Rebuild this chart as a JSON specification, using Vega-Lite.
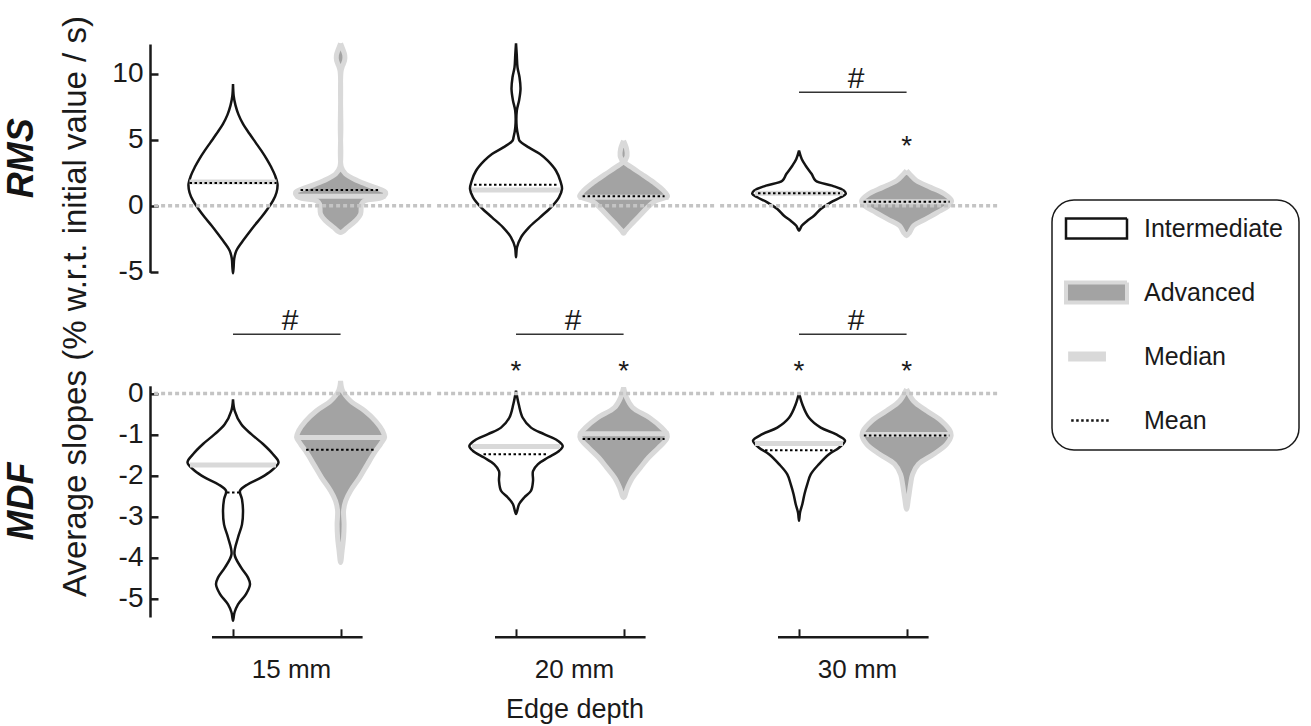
{
"$schema":"https://vega.github.io/schema/vega-lite/v6.json",
"background":"white",
"padding":{"left":3,"top":15,"right":0,"bottom":5},
"config":{"font":"Liberation Sans","view":{"stroke":null},"text":{"font":"Liberation Sans"},"axis":{"grid":false,"labelFont":"Liberation Sans","titleFont":"Liberation Sans"},"header":{"labelFont":"Liberation Sans","titleFont":"Liberation Sans"},"legend":{"labelFont":"Liberation Sans"}},
"datasets":{"all":[
{"p":"RMS","g":"15 mm","l":"Intermediate","k":"v","v":9.22,"d":0},
{"p":"RMS","g":"15 mm","l":"Intermediate","k":"v","v":8.3,"d":0.07},
{"p":"RMS","g":"15 mm","l":"Intermediate","k":"v","v":7.6,"d":0.25},
{"p":"RMS","g":"15 mm","l":"Intermediate","k":"v","v":6.9,"d":0.55},
{"p":"RMS","g":"15 mm","l":"Intermediate","k":"v","v":6.2,"d":1},
{"p":"RMS","g":"15 mm","l":"Intermediate","k":"v","v":5.43,"d":1.67},
{"p":"RMS","g":"15 mm","l":"Intermediate","k":"v","v":4.8,"d":2.25},
{"p":"RMS","g":"15 mm","l":"Intermediate","k":"v","v":4.17,"d":2.83},
{"p":"RMS","g":"15 mm","l":"Intermediate","k":"v","v":3.5,"d":3.4},
{"p":"RMS","g":"15 mm","l":"Intermediate","k":"v","v":2.91,"d":3.83},
{"p":"RMS","g":"15 mm","l":"Intermediate","k":"v","v":2.3,"d":4.2},
{"p":"RMS","g":"15 mm","l":"Intermediate","k":"v","v":1.64,"d":4.45},
{"p":"RMS","g":"15 mm","l":"Intermediate","k":"v","v":1,"d":4.35},
{"p":"RMS","g":"15 mm","l":"Intermediate","k":"v","v":0.38,"d":4},
{"p":"RMS","g":"15 mm","l":"Intermediate","k":"v","v":-0.25,"d":3.45},
{"p":"RMS","g":"15 mm","l":"Intermediate","k":"v","v":-0.88,"d":2.83},
{"p":"RMS","g":"15 mm","l":"Intermediate","k":"v","v":-1.5,"d":2.15},
{"p":"RMS","g":"15 mm","l":"Intermediate","k":"v","v":-2.14,"d":1.5},
{"p":"RMS","g":"15 mm","l":"Intermediate","k":"v","v":-2.8,"d":0.85},
{"p":"RMS","g":"15 mm","l":"Intermediate","k":"v","v":-3.41,"d":0.33},
{"p":"RMS","g":"15 mm","l":"Intermediate","k":"v","v":-4,"d":0.12},
{"p":"RMS","g":"15 mm","l":"Intermediate","k":"v","v":-4.67,"d":0.06},
{"p":"RMS","g":"15 mm","l":"Intermediate","k":"v","v":-5.12,"d":0},
{"p":"RMS","g":"15 mm","l":"Intermediate","k":"v","v":-4.67,"d":-0.06},
{"p":"RMS","g":"15 mm","l":"Intermediate","k":"v","v":-4,"d":-0.12},
{"p":"RMS","g":"15 mm","l":"Intermediate","k":"v","v":-3.41,"d":-0.33},
{"p":"RMS","g":"15 mm","l":"Intermediate","k":"v","v":-2.8,"d":-0.85},
{"p":"RMS","g":"15 mm","l":"Intermediate","k":"v","v":-2.14,"d":-1.5},
{"p":"RMS","g":"15 mm","l":"Intermediate","k":"v","v":-1.5,"d":-2.15},
{"p":"RMS","g":"15 mm","l":"Intermediate","k":"v","v":-0.88,"d":-2.83},
{"p":"RMS","g":"15 mm","l":"Intermediate","k":"v","v":-0.25,"d":-3.45},
{"p":"RMS","g":"15 mm","l":"Intermediate","k":"v","v":0.38,"d":-4},
{"p":"RMS","g":"15 mm","l":"Intermediate","k":"v","v":1,"d":-4.35},
{"p":"RMS","g":"15 mm","l":"Intermediate","k":"v","v":1.64,"d":-4.45},
{"p":"RMS","g":"15 mm","l":"Intermediate","k":"v","v":2.3,"d":-4.2},
{"p":"RMS","g":"15 mm","l":"Intermediate","k":"v","v":2.91,"d":-3.83},
{"p":"RMS","g":"15 mm","l":"Intermediate","k":"v","v":3.5,"d":-3.4},
{"p":"RMS","g":"15 mm","l":"Intermediate","k":"v","v":4.17,"d":-2.83},
{"p":"RMS","g":"15 mm","l":"Intermediate","k":"v","v":4.8,"d":-2.25},
{"p":"RMS","g":"15 mm","l":"Intermediate","k":"v","v":5.43,"d":-1.67},
{"p":"RMS","g":"15 mm","l":"Intermediate","k":"v","v":6.2,"d":-1},
{"p":"RMS","g":"15 mm","l":"Intermediate","k":"v","v":6.9,"d":-0.55},
{"p":"RMS","g":"15 mm","l":"Intermediate","k":"v","v":7.6,"d":-0.25},
{"p":"RMS","g":"15 mm","l":"Intermediate","k":"v","v":8.3,"d":-0.07},
{"p":"RMS","g":"15 mm","l":"Intermediate","k":"v","v":9.22,"d":0},
{"p":"RMS","g":"15 mm","l":"Advanced","k":"v","v":12.3,"d":0},
{"p":"RMS","g":"15 mm","l":"Advanced","k":"v","v":11.8,"d":0.25},
{"p":"RMS","g":"15 mm","l":"Advanced","k":"v","v":11.4,"d":0.42},
{"p":"RMS","g":"15 mm","l":"Advanced","k":"v","v":11,"d":0.4},
{"p":"RMS","g":"15 mm","l":"Advanced","k":"v","v":10.6,"d":0.2},
{"p":"RMS","g":"15 mm","l":"Advanced","k":"v","v":10.2,"d":0.05},
{"p":"RMS","g":"15 mm","l":"Advanced","k":"v","v":6,"d":0.03},
{"p":"RMS","g":"15 mm","l":"Advanced","k":"v","v":2.91,"d":0.08},
{"p":"RMS","g":"15 mm","l":"Advanced","k":"v","v":2.4,"d":0.5},
{"p":"RMS","g":"15 mm","l":"Advanced","k":"v","v":1.89,"d":1.7},
{"p":"RMS","g":"15 mm","l":"Advanced","k":"v","v":1.39,"d":3.4},
{"p":"RMS","g":"15 mm","l":"Advanced","k":"v","v":1.02,"d":4.5},
{"p":"RMS","g":"15 mm","l":"Advanced","k":"v","v":0.64,"d":4.2},
{"p":"RMS","g":"15 mm","l":"Advanced","k":"v","v":0.38,"d":2.4},
{"p":"RMS","g":"15 mm","l":"Advanced","k":"v","v":0.13,"d":2.1},
{"p":"RMS","g":"15 mm","l":"Advanced","k":"v","v":-0.63,"d":2},
{"p":"RMS","g":"15 mm","l":"Advanced","k":"v","v":-1.14,"d":1.5},
{"p":"RMS","g":"15 mm","l":"Advanced","k":"v","v":-1.64,"d":0.7},
{"p":"RMS","g":"15 mm","l":"Advanced","k":"v","v":-2.02,"d":0},
{"p":"RMS","g":"15 mm","l":"Advanced","k":"v","v":-1.64,"d":-0.7},
{"p":"RMS","g":"15 mm","l":"Advanced","k":"v","v":-1.14,"d":-1.5},
{"p":"RMS","g":"15 mm","l":"Advanced","k":"v","v":-0.63,"d":-2},
{"p":"RMS","g":"15 mm","l":"Advanced","k":"v","v":0.13,"d":-2.1},
{"p":"RMS","g":"15 mm","l":"Advanced","k":"v","v":0.38,"d":-2.4},
{"p":"RMS","g":"15 mm","l":"Advanced","k":"v","v":0.64,"d":-4.2},
{"p":"RMS","g":"15 mm","l":"Advanced","k":"v","v":1.02,"d":-4.5},
{"p":"RMS","g":"15 mm","l":"Advanced","k":"v","v":1.39,"d":-3.4},
{"p":"RMS","g":"15 mm","l":"Advanced","k":"v","v":1.89,"d":-1.7},
{"p":"RMS","g":"15 mm","l":"Advanced","k":"v","v":2.4,"d":-0.5},
{"p":"RMS","g":"15 mm","l":"Advanced","k":"v","v":2.91,"d":-0.08},
{"p":"RMS","g":"15 mm","l":"Advanced","k":"v","v":6,"d":-0.03},
{"p":"RMS","g":"15 mm","l":"Advanced","k":"v","v":10.2,"d":-0.05},
{"p":"RMS","g":"15 mm","l":"Advanced","k":"v","v":10.6,"d":-0.2},
{"p":"RMS","g":"15 mm","l":"Advanced","k":"v","v":11,"d":-0.4},
{"p":"RMS","g":"15 mm","l":"Advanced","k":"v","v":11.4,"d":-0.42},
{"p":"RMS","g":"15 mm","l":"Advanced","k":"v","v":11.8,"d":-0.25},
{"p":"RMS","g":"15 mm","l":"Advanced","k":"v","v":12.3,"d":0},
{"p":"RMS","g":"20 mm","l":"Intermediate","k":"v","v":12.3,"d":0},
{"p":"RMS","g":"20 mm","l":"Intermediate","k":"v","v":11.49,"d":0.07},
{"p":"RMS","g":"20 mm","l":"Intermediate","k":"v","v":10.48,"d":0.15},
{"p":"RMS","g":"20 mm","l":"Intermediate","k":"v","v":9.73,"d":0.35},
{"p":"RMS","g":"20 mm","l":"Intermediate","k":"v","v":8.84,"d":0.45},
{"p":"RMS","g":"20 mm","l":"Intermediate","k":"v","v":7.95,"d":0.3},
{"p":"RMS","g":"20 mm","l":"Intermediate","k":"v","v":7.2,"d":0.08},
{"p":"RMS","g":"20 mm","l":"Intermediate","k":"v","v":5.94,"d":0.07},
{"p":"RMS","g":"20 mm","l":"Intermediate","k":"v","v":5.18,"d":0.25},
{"p":"RMS","g":"20 mm","l":"Intermediate","k":"v","v":4.92,"d":0.35},
{"p":"RMS","g":"20 mm","l":"Intermediate","k":"v","v":4.42,"d":1.27},
{"p":"RMS","g":"20 mm","l":"Intermediate","k":"v","v":3.92,"d":2.4},
{"p":"RMS","g":"20 mm","l":"Intermediate","k":"v","v":3.41,"d":3.17},
{"p":"RMS","g":"20 mm","l":"Intermediate","k":"v","v":2.65,"d":4},
{"p":"RMS","g":"20 mm","l":"Intermediate","k":"v","v":1.89,"d":4.43},
{"p":"RMS","g":"20 mm","l":"Intermediate","k":"v","v":1.27,"d":4.6},
{"p":"RMS","g":"20 mm","l":"Intermediate","k":"v","v":0.64,"d":4.3},
{"p":"RMS","g":"20 mm","l":"Intermediate","k":"v","v":-0.12,"d":3.5},
{"p":"RMS","g":"20 mm","l":"Intermediate","k":"v","v":-0.88,"d":2.4},
{"p":"RMS","g":"20 mm","l":"Intermediate","k":"v","v":-1.64,"d":1.3},
{"p":"RMS","g":"20 mm","l":"Intermediate","k":"v","v":-2.39,"d":0.5},
{"p":"RMS","g":"20 mm","l":"Intermediate","k":"v","v":-3.15,"d":0.1},
{"p":"RMS","g":"20 mm","l":"Intermediate","k":"v","v":-3.91,"d":0},
{"p":"RMS","g":"20 mm","l":"Intermediate","k":"v","v":-3.15,"d":-0.1},
{"p":"RMS","g":"20 mm","l":"Intermediate","k":"v","v":-2.39,"d":-0.5},
{"p":"RMS","g":"20 mm","l":"Intermediate","k":"v","v":-1.64,"d":-1.3},
{"p":"RMS","g":"20 mm","l":"Intermediate","k":"v","v":-0.88,"d":-2.4},
{"p":"RMS","g":"20 mm","l":"Intermediate","k":"v","v":-0.12,"d":-3.5},
{"p":"RMS","g":"20 mm","l":"Intermediate","k":"v","v":0.64,"d":-4.3},
{"p":"RMS","g":"20 mm","l":"Intermediate","k":"v","v":1.27,"d":-4.6},
{"p":"RMS","g":"20 mm","l":"Intermediate","k":"v","v":1.89,"d":-4.43},
{"p":"RMS","g":"20 mm","l":"Intermediate","k":"v","v":2.65,"d":-4},
{"p":"RMS","g":"20 mm","l":"Intermediate","k":"v","v":3.41,"d":-3.17},
{"p":"RMS","g":"20 mm","l":"Intermediate","k":"v","v":3.92,"d":-2.4},
{"p":"RMS","g":"20 mm","l":"Intermediate","k":"v","v":4.42,"d":-1.27},
{"p":"RMS","g":"20 mm","l":"Intermediate","k":"v","v":4.92,"d":-0.35},
{"p":"RMS","g":"20 mm","l":"Intermediate","k":"v","v":5.18,"d":-0.25},
{"p":"RMS","g":"20 mm","l":"Intermediate","k":"v","v":5.94,"d":-0.07},
{"p":"RMS","g":"20 mm","l":"Intermediate","k":"v","v":7.2,"d":-0.08},
{"p":"RMS","g":"20 mm","l":"Intermediate","k":"v","v":7.95,"d":-0.3},
{"p":"RMS","g":"20 mm","l":"Intermediate","k":"v","v":8.84,"d":-0.45},
{"p":"RMS","g":"20 mm","l":"Intermediate","k":"v","v":9.73,"d":-0.35},
{"p":"RMS","g":"20 mm","l":"Intermediate","k":"v","v":10.48,"d":-0.15},
{"p":"RMS","g":"20 mm","l":"Intermediate","k":"v","v":11.49,"d":-0.07},
{"p":"RMS","g":"20 mm","l":"Intermediate","k":"v","v":12.3,"d":0},
{"p":"RMS","g":"20 mm","l":"Advanced","k":"v","v":4.92,"d":0},
{"p":"RMS","g":"20 mm","l":"Advanced","k":"v","v":4.3,"d":0.3},
{"p":"RMS","g":"20 mm","l":"Advanced","k":"v","v":3.79,"d":0.35},
{"p":"RMS","g":"20 mm","l":"Advanced","k":"v","v":3.29,"d":0.15},
{"p":"RMS","g":"20 mm","l":"Advanced","k":"v","v":2.91,"d":0.8},
{"p":"RMS","g":"20 mm","l":"Advanced","k":"v","v":2.4,"d":1.8},
{"p":"RMS","g":"20 mm","l":"Advanced","k":"v","v":1.77,"d":3},
{"p":"RMS","g":"20 mm","l":"Advanced","k":"v","v":1.14,"d":4},
{"p":"RMS","g":"20 mm","l":"Advanced","k":"v","v":0.71,"d":4.4},
{"p":"RMS","g":"20 mm","l":"Advanced","k":"v","v":0.38,"d":3.2},
{"p":"RMS","g":"20 mm","l":"Advanced","k":"v","v":-0.12,"d":2.4},
{"p":"RMS","g":"20 mm","l":"Advanced","k":"v","v":-0.76,"d":1.6},
{"p":"RMS","g":"20 mm","l":"Advanced","k":"v","v":-1.39,"d":0.8},
{"p":"RMS","g":"20 mm","l":"Advanced","k":"v","v":-1.89,"d":0.2},
{"p":"RMS","g":"20 mm","l":"Advanced","k":"v","v":-2.09,"d":0},
{"p":"RMS","g":"20 mm","l":"Advanced","k":"v","v":-1.89,"d":-0.2},
{"p":"RMS","g":"20 mm","l":"Advanced","k":"v","v":-1.39,"d":-0.8},
{"p":"RMS","g":"20 mm","l":"Advanced","k":"v","v":-0.76,"d":-1.6},
{"p":"RMS","g":"20 mm","l":"Advanced","k":"v","v":-0.12,"d":-2.4},
{"p":"RMS","g":"20 mm","l":"Advanced","k":"v","v":0.38,"d":-3.2},
{"p":"RMS","g":"20 mm","l":"Advanced","k":"v","v":0.71,"d":-4.4},
{"p":"RMS","g":"20 mm","l":"Advanced","k":"v","v":1.14,"d":-4},
{"p":"RMS","g":"20 mm","l":"Advanced","k":"v","v":1.77,"d":-3},
{"p":"RMS","g":"20 mm","l":"Advanced","k":"v","v":2.4,"d":-1.8},
{"p":"RMS","g":"20 mm","l":"Advanced","k":"v","v":2.91,"d":-0.8},
{"p":"RMS","g":"20 mm","l":"Advanced","k":"v","v":3.29,"d":-0.15},
{"p":"RMS","g":"20 mm","l":"Advanced","k":"v","v":3.79,"d":-0.35},
{"p":"RMS","g":"20 mm","l":"Advanced","k":"v","v":4.3,"d":-0.3},
{"p":"RMS","g":"20 mm","l":"Advanced","k":"v","v":4.92,"d":0},
{"p":"RMS","g":"30 mm","l":"Intermediate","k":"v","v":4.17,"d":0},
{"p":"RMS","g":"30 mm","l":"Intermediate","k":"v","v":3.54,"d":0.27},
{"p":"RMS","g":"30 mm","l":"Intermediate","k":"v","v":3.03,"d":0.67},
{"p":"RMS","g":"30 mm","l":"Intermediate","k":"v","v":2.4,"d":1.27},
{"p":"RMS","g":"30 mm","l":"Intermediate","k":"v","v":1.89,"d":1.67},
{"p":"RMS","g":"30 mm","l":"Intermediate","k":"v","v":1.52,"d":3.3},
{"p":"RMS","g":"30 mm","l":"Intermediate","k":"v","v":1.14,"d":4.5},
{"p":"RMS","g":"30 mm","l":"Intermediate","k":"v","v":0.89,"d":4.67},
{"p":"RMS","g":"30 mm","l":"Intermediate","k":"v","v":0.64,"d":4.17},
{"p":"RMS","g":"30 mm","l":"Intermediate","k":"v","v":0.26,"d":3.17},
{"p":"RMS","g":"30 mm","l":"Intermediate","k":"v","v":-0.25,"d":2.17},
{"p":"RMS","g":"30 mm","l":"Intermediate","k":"v","v":-0.76,"d":1.5},
{"p":"RMS","g":"30 mm","l":"Intermediate","k":"v","v":-1.14,"d":0.83},
{"p":"RMS","g":"30 mm","l":"Intermediate","k":"v","v":-1.52,"d":0.27},
{"p":"RMS","g":"30 mm","l":"Intermediate","k":"v","v":-1.89,"d":0},
{"p":"RMS","g":"30 mm","l":"Intermediate","k":"v","v":-1.52,"d":-0.27},
{"p":"RMS","g":"30 mm","l":"Intermediate","k":"v","v":-1.14,"d":-0.83},
{"p":"RMS","g":"30 mm","l":"Intermediate","k":"v","v":-0.76,"d":-1.5},
{"p":"RMS","g":"30 mm","l":"Intermediate","k":"v","v":-0.25,"d":-2.17},
{"p":"RMS","g":"30 mm","l":"Intermediate","k":"v","v":0.26,"d":-3.17},
{"p":"RMS","g":"30 mm","l":"Intermediate","k":"v","v":0.64,"d":-4.17},
{"p":"RMS","g":"30 mm","l":"Intermediate","k":"v","v":0.89,"d":-4.67},
{"p":"RMS","g":"30 mm","l":"Intermediate","k":"v","v":1.14,"d":-4.5},
{"p":"RMS","g":"30 mm","l":"Intermediate","k":"v","v":1.52,"d":-3.3},
{"p":"RMS","g":"30 mm","l":"Intermediate","k":"v","v":1.89,"d":-1.67},
{"p":"RMS","g":"30 mm","l":"Intermediate","k":"v","v":2.4,"d":-1.27},
{"p":"RMS","g":"30 mm","l":"Intermediate","k":"v","v":3.03,"d":-0.67},
{"p":"RMS","g":"30 mm","l":"Intermediate","k":"v","v":3.54,"d":-0.27},
{"p":"RMS","g":"30 mm","l":"Intermediate","k":"v","v":4.17,"d":0},
{"p":"RMS","g":"30 mm","l":"Advanced","k":"v","v":2.65,"d":0},
{"p":"RMS","g":"30 mm","l":"Advanced","k":"v","v":2.4,"d":0.3},
{"p":"RMS","g":"30 mm","l":"Advanced","k":"v","v":1.89,"d":1},
{"p":"RMS","g":"30 mm","l":"Advanced","k":"v","v":1.39,"d":2.4},
{"p":"RMS","g":"30 mm","l":"Advanced","k":"v","v":0.89,"d":3.8},
{"p":"RMS","g":"30 mm","l":"Advanced","k":"v","v":0.38,"d":4.5},
{"p":"RMS","g":"30 mm","l":"Advanced","k":"v","v":0,"d":4.2},
{"p":"RMS","g":"30 mm","l":"Advanced","k":"v","v":-0.5,"d":3.1},
{"p":"RMS","g":"30 mm","l":"Advanced","k":"v","v":-1.01,"d":1.9},
{"p":"RMS","g":"30 mm","l":"Advanced","k":"v","v":-1.52,"d":0.7},
{"p":"RMS","g":"30 mm","l":"Advanced","k":"v","v":-2.02,"d":0.3},
{"p":"RMS","g":"30 mm","l":"Advanced","k":"v","v":-2.27,"d":0},
{"p":"RMS","g":"30 mm","l":"Advanced","k":"v","v":-2.02,"d":-0.3},
{"p":"RMS","g":"30 mm","l":"Advanced","k":"v","v":-1.52,"d":-0.7},
{"p":"RMS","g":"30 mm","l":"Advanced","k":"v","v":-1.01,"d":-1.9},
{"p":"RMS","g":"30 mm","l":"Advanced","k":"v","v":-0.5,"d":-3.1},
{"p":"RMS","g":"30 mm","l":"Advanced","k":"v","v":0,"d":-4.2},
{"p":"RMS","g":"30 mm","l":"Advanced","k":"v","v":0.38,"d":-4.5},
{"p":"RMS","g":"30 mm","l":"Advanced","k":"v","v":0.89,"d":-3.8},
{"p":"RMS","g":"30 mm","l":"Advanced","k":"v","v":1.39,"d":-2.4},
{"p":"RMS","g":"30 mm","l":"Advanced","k":"v","v":1.89,"d":-1},
{"p":"RMS","g":"30 mm","l":"Advanced","k":"v","v":2.4,"d":-0.3},
{"p":"RMS","g":"30 mm","l":"Advanced","k":"v","v":2.65,"d":0},
{"p":"MDF","g":"15 mm","l":"Intermediate","k":"v","v":-0.14,"d":0},
{"p":"MDF","g":"15 mm","l":"Intermediate","k":"v","v":-0.42,"d":0.17},
{"p":"MDF","g":"15 mm","l":"Intermediate","k":"v","v":-0.75,"d":0.83},
{"p":"MDF","g":"15 mm","l":"Intermediate","k":"v","v":-0.99,"d":1.83},
{"p":"MDF","g":"15 mm","l":"Intermediate","k":"v","v":-1.23,"d":3},
{"p":"MDF","g":"15 mm","l":"Intermediate","k":"v","v":-1.48,"d":4},
{"p":"MDF","g":"15 mm","l":"Intermediate","k":"v","v":-1.68,"d":4.55},
{"p":"MDF","g":"15 mm","l":"Intermediate","k":"v","v":-1.89,"d":3.8},
{"p":"MDF","g":"15 mm","l":"Intermediate","k":"v","v":-2.05,"d":2.8},
{"p":"MDF","g":"15 mm","l":"Intermediate","k":"v","v":-2.21,"d":1.5},
{"p":"MDF","g":"15 mm","l":"Intermediate","k":"v","v":-2.37,"d":0.7},
{"p":"MDF","g":"15 mm","l":"Intermediate","k":"v","v":-2.58,"d":0.9},
{"p":"MDF","g":"15 mm","l":"Intermediate","k":"v","v":-2.86,"d":1},
{"p":"MDF","g":"15 mm","l":"Intermediate","k":"v","v":-3.19,"d":0.9},
{"p":"MDF","g":"15 mm","l":"Intermediate","k":"v","v":-3.51,"d":0.5},
{"p":"MDF","g":"15 mm","l":"Intermediate","k":"v","v":-3.92,"d":0.15},
{"p":"MDF","g":"15 mm","l":"Intermediate","k":"v","v":-4.24,"d":0.8},
{"p":"MDF","g":"15 mm","l":"Intermediate","k":"v","v":-4.49,"d":1.5},
{"p":"MDF","g":"15 mm","l":"Intermediate","k":"v","v":-4.65,"d":1.7},
{"p":"MDF","g":"15 mm","l":"Intermediate","k":"v","v":-4.89,"d":1.3},
{"p":"MDF","g":"15 mm","l":"Intermediate","k":"v","v":-5.14,"d":0.5},
{"p":"MDF","g":"15 mm","l":"Intermediate","k":"v","v":-5.34,"d":0.15},
{"p":"MDF","g":"15 mm","l":"Intermediate","k":"v","v":-5.54,"d":0},
{"p":"MDF","g":"15 mm","l":"Intermediate","k":"v","v":-5.34,"d":-0.15},
{"p":"MDF","g":"15 mm","l":"Intermediate","k":"v","v":-5.14,"d":-0.5},
{"p":"MDF","g":"15 mm","l":"Intermediate","k":"v","v":-4.89,"d":-1.3},
{"p":"MDF","g":"15 mm","l":"Intermediate","k":"v","v":-4.65,"d":-1.7},
{"p":"MDF","g":"15 mm","l":"Intermediate","k":"v","v":-4.49,"d":-1.5},
{"p":"MDF","g":"15 mm","l":"Intermediate","k":"v","v":-4.24,"d":-0.8},
{"p":"MDF","g":"15 mm","l":"Intermediate","k":"v","v":-3.92,"d":-0.15},
{"p":"MDF","g":"15 mm","l":"Intermediate","k":"v","v":-3.51,"d":-0.5},
{"p":"MDF","g":"15 mm","l":"Intermediate","k":"v","v":-3.19,"d":-0.9},
{"p":"MDF","g":"15 mm","l":"Intermediate","k":"v","v":-2.86,"d":-1},
{"p":"MDF","g":"15 mm","l":"Intermediate","k":"v","v":-2.58,"d":-0.9},
{"p":"MDF","g":"15 mm","l":"Intermediate","k":"v","v":-2.37,"d":-0.7},
{"p":"MDF","g":"15 mm","l":"Intermediate","k":"v","v":-2.21,"d":-1.5},
{"p":"MDF","g":"15 mm","l":"Intermediate","k":"v","v":-2.05,"d":-2.8},
{"p":"MDF","g":"15 mm","l":"Intermediate","k":"v","v":-1.89,"d":-3.8},
{"p":"MDF","g":"15 mm","l":"Intermediate","k":"v","v":-1.68,"d":-4.55},
{"p":"MDF","g":"15 mm","l":"Intermediate","k":"v","v":-1.48,"d":-4},
{"p":"MDF","g":"15 mm","l":"Intermediate","k":"v","v":-1.23,"d":-3},
{"p":"MDF","g":"15 mm","l":"Intermediate","k":"v","v":-0.99,"d":-1.83},
{"p":"MDF","g":"15 mm","l":"Intermediate","k":"v","v":-0.75,"d":-0.83},
{"p":"MDF","g":"15 mm","l":"Intermediate","k":"v","v":-0.42,"d":-0.17},
{"p":"MDF","g":"15 mm","l":"Intermediate","k":"v","v":-0.14,"d":0},
{"p":"MDF","g":"15 mm","l":"Advanced","k":"v","v":0.31,"d":0},
{"p":"MDF","g":"15 mm","l":"Advanced","k":"v","v":0.07,"d":0.2},
{"p":"MDF","g":"15 mm","l":"Advanced","k":"v","v":-0.18,"d":1},
{"p":"MDF","g":"15 mm","l":"Advanced","k":"v","v":-0.42,"d":2.4},
{"p":"MDF","g":"15 mm","l":"Advanced","k":"v","v":-0.67,"d":3.5},
{"p":"MDF","g":"15 mm","l":"Advanced","k":"v","v":-0.91,"d":4.2},
{"p":"MDF","g":"15 mm","l":"Advanced","k":"v","v":-1.07,"d":4.4},
{"p":"MDF","g":"15 mm","l":"Advanced","k":"v","v":-1.23,"d":4},
{"p":"MDF","g":"15 mm","l":"Advanced","k":"v","v":-1.4,"d":3.5},
{"p":"MDF","g":"15 mm","l":"Advanced","k":"v","v":-1.72,"d":2.7},
{"p":"MDF","g":"15 mm","l":"Advanced","k":"v","v":-2.05,"d":1.9},
{"p":"MDF","g":"15 mm","l":"Advanced","k":"v","v":-2.37,"d":1},
{"p":"MDF","g":"15 mm","l":"Advanced","k":"v","v":-2.62,"d":0.5},
{"p":"MDF","g":"15 mm","l":"Advanced","k":"v","v":-2.86,"d":0.3},
{"p":"MDF","g":"15 mm","l":"Advanced","k":"v","v":-3.19,"d":0.35},
{"p":"MDF","g":"15 mm","l":"Advanced","k":"v","v":-3.51,"d":0.3},
{"p":"MDF","g":"15 mm","l":"Advanced","k":"v","v":-3.84,"d":0.15},
{"p":"MDF","g":"15 mm","l":"Advanced","k":"v","v":-4.12,"d":0},
{"p":"MDF","g":"15 mm","l":"Advanced","k":"v","v":-3.84,"d":-0.15},
{"p":"MDF","g":"15 mm","l":"Advanced","k":"v","v":-3.51,"d":-0.3},
{"p":"MDF","g":"15 mm","l":"Advanced","k":"v","v":-3.19,"d":-0.35},
{"p":"MDF","g":"15 mm","l":"Advanced","k":"v","v":-2.86,"d":-0.3},
{"p":"MDF","g":"15 mm","l":"Advanced","k":"v","v":-2.62,"d":-0.5},
{"p":"MDF","g":"15 mm","l":"Advanced","k":"v","v":-2.37,"d":-1},
{"p":"MDF","g":"15 mm","l":"Advanced","k":"v","v":-2.05,"d":-1.9},
{"p":"MDF","g":"15 mm","l":"Advanced","k":"v","v":-1.72,"d":-2.7},
{"p":"MDF","g":"15 mm","l":"Advanced","k":"v","v":-1.4,"d":-3.5},
{"p":"MDF","g":"15 mm","l":"Advanced","k":"v","v":-1.23,"d":-4},
{"p":"MDF","g":"15 mm","l":"Advanced","k":"v","v":-1.07,"d":-4.4},
{"p":"MDF","g":"15 mm","l":"Advanced","k":"v","v":-0.91,"d":-4.2},
{"p":"MDF","g":"15 mm","l":"Advanced","k":"v","v":-0.67,"d":-3.5},
{"p":"MDF","g":"15 mm","l":"Advanced","k":"v","v":-0.42,"d":-2.4},
{"p":"MDF","g":"15 mm","l":"Advanced","k":"v","v":-0.18,"d":-1},
{"p":"MDF","g":"15 mm","l":"Advanced","k":"v","v":0.07,"d":-0.2},
{"p":"MDF","g":"15 mm","l":"Advanced","k":"v","v":0.31,"d":0},
{"p":"MDF","g":"20 mm","l":"Intermediate","k":"v","v":0.07,"d":0},
{"p":"MDF","g":"20 mm","l":"Intermediate","k":"v","v":-0.26,"d":0.27},
{"p":"MDF","g":"20 mm","l":"Intermediate","k":"v","v":-0.59,"d":0.67},
{"p":"MDF","g":"20 mm","l":"Intermediate","k":"v","v":-0.83,"d":1.5},
{"p":"MDF","g":"20 mm","l":"Intermediate","k":"v","v":-0.99,"d":2.8},
{"p":"MDF","g":"20 mm","l":"Intermediate","k":"v","v":-1.15,"d":4.17},
{"p":"MDF","g":"20 mm","l":"Intermediate","k":"v","v":-1.28,"d":4.67},
{"p":"MDF","g":"20 mm","l":"Intermediate","k":"v","v":-1.4,"d":4.3},
{"p":"MDF","g":"20 mm","l":"Intermediate","k":"v","v":-1.56,"d":3.2},
{"p":"MDF","g":"20 mm","l":"Intermediate","k":"v","v":-1.72,"d":2.2},
{"p":"MDF","g":"20 mm","l":"Intermediate","k":"v","v":-1.89,"d":1.7},
{"p":"MDF","g":"20 mm","l":"Intermediate","k":"v","v":-2.13,"d":1.7},
{"p":"MDF","g":"20 mm","l":"Intermediate","k":"v","v":-2.37,"d":1.5},
{"p":"MDF","g":"20 mm","l":"Intermediate","k":"v","v":-2.54,"d":0.8},
{"p":"MDF","g":"20 mm","l":"Intermediate","k":"v","v":-2.7,"d":0.3},
{"p":"MDF","g":"20 mm","l":"Intermediate","k":"v","v":-2.94,"d":0},
{"p":"MDF","g":"20 mm","l":"Intermediate","k":"v","v":-2.7,"d":-0.3},
{"p":"MDF","g":"20 mm","l":"Intermediate","k":"v","v":-2.54,"d":-0.8},
{"p":"MDF","g":"20 mm","l":"Intermediate","k":"v","v":-2.37,"d":-1.5},
{"p":"MDF","g":"20 mm","l":"Intermediate","k":"v","v":-2.13,"d":-1.7},
{"p":"MDF","g":"20 mm","l":"Intermediate","k":"v","v":-1.89,"d":-1.7},
{"p":"MDF","g":"20 mm","l":"Intermediate","k":"v","v":-1.72,"d":-2.2},
{"p":"MDF","g":"20 mm","l":"Intermediate","k":"v","v":-1.56,"d":-3.2},
{"p":"MDF","g":"20 mm","l":"Intermediate","k":"v","v":-1.4,"d":-4.3},
{"p":"MDF","g":"20 mm","l":"Intermediate","k":"v","v":-1.28,"d":-4.67},
{"p":"MDF","g":"20 mm","l":"Intermediate","k":"v","v":-1.15,"d":-4.17},
{"p":"MDF","g":"20 mm","l":"Intermediate","k":"v","v":-0.99,"d":-2.8},
{"p":"MDF","g":"20 mm","l":"Intermediate","k":"v","v":-0.83,"d":-1.5},
{"p":"MDF","g":"20 mm","l":"Intermediate","k":"v","v":-0.59,"d":-0.67},
{"p":"MDF","g":"20 mm","l":"Intermediate","k":"v","v":-0.26,"d":-0.27},
{"p":"MDF","g":"20 mm","l":"Intermediate","k":"v","v":0.07,"d":0},
{"p":"MDF","g":"20 mm","l":"Advanced","k":"v","v":0.15,"d":0},
{"p":"MDF","g":"20 mm","l":"Advanced","k":"v","v":-0.1,"d":0.3},
{"p":"MDF","g":"20 mm","l":"Advanced","k":"v","v":-0.34,"d":0.9},
{"p":"MDF","g":"20 mm","l":"Advanced","k":"v","v":-0.59,"d":2.6},
{"p":"MDF","g":"20 mm","l":"Advanced","k":"v","v":-0.83,"d":3.8},
{"p":"MDF","g":"20 mm","l":"Advanced","k":"v","v":-0.99,"d":4.35},
{"p":"MDF","g":"20 mm","l":"Advanced","k":"v","v":-1.11,"d":4.3},
{"p":"MDF","g":"20 mm","l":"Advanced","k":"v","v":-1.32,"d":3.5},
{"p":"MDF","g":"20 mm","l":"Advanced","k":"v","v":-1.56,"d":2.5},
{"p":"MDF","g":"20 mm","l":"Advanced","k":"v","v":-1.8,"d":1.7},
{"p":"MDF","g":"20 mm","l":"Advanced","k":"v","v":-2.05,"d":0.9},
{"p":"MDF","g":"20 mm","l":"Advanced","k":"v","v":-2.29,"d":0.4},
{"p":"MDF","g":"20 mm","l":"Advanced","k":"v","v":-2.54,"d":0},
{"p":"MDF","g":"20 mm","l":"Advanced","k":"v","v":-2.29,"d":-0.4},
{"p":"MDF","g":"20 mm","l":"Advanced","k":"v","v":-2.05,"d":-0.9},
{"p":"MDF","g":"20 mm","l":"Advanced","k":"v","v":-1.8,"d":-1.7},
{"p":"MDF","g":"20 mm","l":"Advanced","k":"v","v":-1.56,"d":-2.5},
{"p":"MDF","g":"20 mm","l":"Advanced","k":"v","v":-1.32,"d":-3.5},
{"p":"MDF","g":"20 mm","l":"Advanced","k":"v","v":-1.11,"d":-4.3},
{"p":"MDF","g":"20 mm","l":"Advanced","k":"v","v":-0.99,"d":-4.35},
{"p":"MDF","g":"20 mm","l":"Advanced","k":"v","v":-0.83,"d":-3.8},
{"p":"MDF","g":"20 mm","l":"Advanced","k":"v","v":-0.59,"d":-2.6},
{"p":"MDF","g":"20 mm","l":"Advanced","k":"v","v":-0.34,"d":-0.9},
{"p":"MDF","g":"20 mm","l":"Advanced","k":"v","v":-0.1,"d":-0.3},
{"p":"MDF","g":"20 mm","l":"Advanced","k":"v","v":0.15,"d":0},
{"p":"MDF","g":"30 mm","l":"Intermediate","k":"v","v":0.02,"d":0},
{"p":"MDF","g":"30 mm","l":"Intermediate","k":"v","v":-0.26,"d":0.33},
{"p":"MDF","g":"30 mm","l":"Intermediate","k":"v","v":-0.59,"d":1},
{"p":"MDF","g":"30 mm","l":"Intermediate","k":"v","v":-0.83,"d":2.17},
{"p":"MDF","g":"30 mm","l":"Intermediate","k":"v","v":-0.99,"d":3.67},
{"p":"MDF","g":"30 mm","l":"Intermediate","k":"v","v":-1.15,"d":4.6},
{"p":"MDF","g":"30 mm","l":"Intermediate","k":"v","v":-1.32,"d":4},
{"p":"MDF","g":"30 mm","l":"Intermediate","k":"v","v":-1.48,"d":3},
{"p":"MDF","g":"30 mm","l":"Intermediate","k":"v","v":-1.72,"d":2},
{"p":"MDF","g":"30 mm","l":"Intermediate","k":"v","v":-1.97,"d":1.17},
{"p":"MDF","g":"30 mm","l":"Intermediate","k":"v","v":-2.21,"d":0.83},
{"p":"MDF","g":"30 mm","l":"Intermediate","k":"v","v":-2.45,"d":0.55},
{"p":"MDF","g":"30 mm","l":"Intermediate","k":"v","v":-2.7,"d":0.33},
{"p":"MDF","g":"30 mm","l":"Intermediate","k":"v","v":-2.9,"d":0.1},
{"p":"MDF","g":"30 mm","l":"Intermediate","k":"v","v":-3.1,"d":0},
{"p":"MDF","g":"30 mm","l":"Intermediate","k":"v","v":-2.9,"d":-0.1},
{"p":"MDF","g":"30 mm","l":"Intermediate","k":"v","v":-2.7,"d":-0.33},
{"p":"MDF","g":"30 mm","l":"Intermediate","k":"v","v":-2.45,"d":-0.55},
{"p":"MDF","g":"30 mm","l":"Intermediate","k":"v","v":-2.21,"d":-0.83},
{"p":"MDF","g":"30 mm","l":"Intermediate","k":"v","v":-1.97,"d":-1.17},
{"p":"MDF","g":"30 mm","l":"Intermediate","k":"v","v":-1.72,"d":-2},
{"p":"MDF","g":"30 mm","l":"Intermediate","k":"v","v":-1.48,"d":-3},
{"p":"MDF","g":"30 mm","l":"Intermediate","k":"v","v":-1.32,"d":-4},
{"p":"MDF","g":"30 mm","l":"Intermediate","k":"v","v":-1.15,"d":-4.6},
{"p":"MDF","g":"30 mm","l":"Intermediate","k":"v","v":-0.99,"d":-3.67},
{"p":"MDF","g":"30 mm","l":"Intermediate","k":"v","v":-0.83,"d":-2.17},
{"p":"MDF","g":"30 mm","l":"Intermediate","k":"v","v":-0.59,"d":-1},
{"p":"MDF","g":"30 mm","l":"Intermediate","k":"v","v":-0.26,"d":-0.33},
{"p":"MDF","g":"30 mm","l":"Intermediate","k":"v","v":0.02,"d":0},
{"p":"MDF","g":"30 mm","l":"Advanced","k":"v","v":0.11,"d":0},
{"p":"MDF","g":"30 mm","l":"Advanced","k":"v","v":-0.18,"d":0.7},
{"p":"MDF","g":"30 mm","l":"Advanced","k":"v","v":-0.42,"d":2},
{"p":"MDF","g":"30 mm","l":"Advanced","k":"v","v":-0.67,"d":3.5},
{"p":"MDF","g":"30 mm","l":"Advanced","k":"v","v":-0.91,"d":4.35},
{"p":"MDF","g":"30 mm","l":"Advanced","k":"v","v":-1.03,"d":4.45},
{"p":"MDF","g":"30 mm","l":"Advanced","k":"v","v":-1.23,"d":4},
{"p":"MDF","g":"30 mm","l":"Advanced","k":"v","v":-1.48,"d":2.7},
{"p":"MDF","g":"30 mm","l":"Advanced","k":"v","v":-1.72,"d":1.2},
{"p":"MDF","g":"30 mm","l":"Advanced","k":"v","v":-1.97,"d":0.6},
{"p":"MDF","g":"30 mm","l":"Advanced","k":"v","v":-2.21,"d":0.4},
{"p":"MDF","g":"30 mm","l":"Advanced","k":"v","v":-2.54,"d":0.2},
{"p":"MDF","g":"30 mm","l":"Advanced","k":"v","v":-2.82,"d":0},
{"p":"MDF","g":"30 mm","l":"Advanced","k":"v","v":-2.54,"d":-0.2},
{"p":"MDF","g":"30 mm","l":"Advanced","k":"v","v":-2.21,"d":-0.4},
{"p":"MDF","g":"30 mm","l":"Advanced","k":"v","v":-1.97,"d":-0.6},
{"p":"MDF","g":"30 mm","l":"Advanced","k":"v","v":-1.72,"d":-1.2},
{"p":"MDF","g":"30 mm","l":"Advanced","k":"v","v":-1.48,"d":-2.7},
{"p":"MDF","g":"30 mm","l":"Advanced","k":"v","v":-1.23,"d":-4},
{"p":"MDF","g":"30 mm","l":"Advanced","k":"v","v":-1.03,"d":-4.45},
{"p":"MDF","g":"30 mm","l":"Advanced","k":"v","v":-0.91,"d":-4.35},
{"p":"MDF","g":"30 mm","l":"Advanced","k":"v","v":-0.67,"d":-3.5},
{"p":"MDF","g":"30 mm","l":"Advanced","k":"v","v":-0.42,"d":-2},
{"p":"MDF","g":"30 mm","l":"Advanced","k":"v","v":-0.18,"d":-0.7},
{"p":"MDF","g":"30 mm","l":"Advanced","k":"v","v":0.11,"d":0},
{"p":"RMS","g":"15 mm","l":"Intermediate","k":"med","v":1.8,"d":-4.35},
{"p":"RMS","g":"15 mm","l":"Intermediate","k":"med","v":1.8,"d":4.35},
{"p":"RMS","g":"15 mm","l":"Intermediate","k":"mean","v":1.72,"d":-4.35},
{"p":"RMS","g":"15 mm","l":"Intermediate","k":"mean","v":1.72,"d":4.35},
{"p":"RMS","g":"15 mm","l":"Advanced","k":"med","v":0.71,"d":-4.5},
{"p":"RMS","g":"15 mm","l":"Advanced","k":"med","v":0.71,"d":4.5},
{"p":"RMS","g":"15 mm","l":"Advanced","k":"mean","v":1.19,"d":-4},
{"p":"RMS","g":"15 mm","l":"Advanced","k":"mean","v":1.19,"d":4},
{"p":"RMS","g":"20 mm","l":"Intermediate","k":"med","v":1.19,"d":-4.4},
{"p":"RMS","g":"20 mm","l":"Intermediate","k":"med","v":1.19,"d":4.4},
{"p":"RMS","g":"20 mm","l":"Intermediate","k":"mean","v":1.59,"d":-4.2},
{"p":"RMS","g":"20 mm","l":"Intermediate","k":"mean","v":1.59,"d":4.2},
{"p":"RMS","g":"20 mm","l":"Advanced","k":"med","v":0.65,"d":-4.5},
{"p":"RMS","g":"20 mm","l":"Advanced","k":"med","v":0.65,"d":4.5},
{"p":"RMS","g":"20 mm","l":"Advanced","k":"mean","v":0.71,"d":-4.1},
{"p":"RMS","g":"20 mm","l":"Advanced","k":"mean","v":0.71,"d":4.1},
{"p":"RMS","g":"30 mm","l":"Intermediate","k":"med","v":0.94,"d":-4.4},
{"p":"RMS","g":"30 mm","l":"Intermediate","k":"med","v":0.94,"d":4.4},
{"p":"RMS","g":"30 mm","l":"Intermediate","k":"mean","v":0.94,"d":-4.1},
{"p":"RMS","g":"30 mm","l":"Intermediate","k":"mean","v":0.94,"d":4.1},
{"p":"RMS","g":"30 mm","l":"Advanced","k":"med","v":0.3,"d":-4.5},
{"p":"RMS","g":"30 mm","l":"Advanced","k":"med","v":0.3,"d":4.5},
{"p":"RMS","g":"30 mm","l":"Advanced","k":"mean","v":0.3,"d":-4.3},
{"p":"RMS","g":"30 mm","l":"Advanced","k":"mean","v":0.3,"d":4.3},
{"p":"MDF","g":"15 mm","l":"Intermediate","k":"med","v":-1.74,"d":-4.3},
{"p":"MDF","g":"15 mm","l":"Intermediate","k":"med","v":-1.74,"d":4.3},
{"p":"MDF","g":"15 mm","l":"Intermediate","k":"mean","v":-2.41,"d":-0.6},
{"p":"MDF","g":"15 mm","l":"Intermediate","k":"mean","v":-2.41,"d":0.6},
{"p":"MDF","g":"15 mm","l":"Advanced","k":"med","v":-1.07,"d":-4.5},
{"p":"MDF","g":"15 mm","l":"Advanced","k":"med","v":-1.07,"d":4.5},
{"p":"MDF","g":"15 mm","l":"Advanced","k":"mean","v":-1.37,"d":-3.45},
{"p":"MDF","g":"15 mm","l":"Advanced","k":"mean","v":-1.37,"d":3.45},
{"p":"MDF","g":"20 mm","l":"Intermediate","k":"med","v":-1.29,"d":-4.4},
{"p":"MDF","g":"20 mm","l":"Intermediate","k":"med","v":-1.29,"d":4.4},
{"p":"MDF","g":"20 mm","l":"Intermediate","k":"mean","v":-1.48,"d":-3.25},
{"p":"MDF","g":"20 mm","l":"Intermediate","k":"mean","v":-1.48,"d":3.25},
{"p":"MDF","g":"20 mm","l":"Advanced","k":"med","v":-0.98,"d":-4.5},
{"p":"MDF","g":"20 mm","l":"Advanced","k":"med","v":-0.98,"d":4.5},
{"p":"MDF","g":"20 mm","l":"Advanced","k":"mean","v":-1.11,"d":-4.1},
{"p":"MDF","g":"20 mm","l":"Advanced","k":"mean","v":-1.11,"d":4.1},
{"p":"MDF","g":"30 mm","l":"Intermediate","k":"med","v":-1.22,"d":-4.4},
{"p":"MDF","g":"30 mm","l":"Intermediate","k":"med","v":-1.22,"d":4.4},
{"p":"MDF","g":"30 mm","l":"Intermediate","k":"mean","v":-1.38,"d":-3.4},
{"p":"MDF","g":"30 mm","l":"Intermediate","k":"mean","v":-1.38,"d":3.4},
{"p":"MDF","g":"30 mm","l":"Advanced","k":"med","v":-1,"d":-4.5},
{"p":"MDF","g":"30 mm","l":"Advanced","k":"med","v":-1,"d":4.5},
{"p":"MDF","g":"30 mm","l":"Advanced","k":"mean","v":-1.02,"d":-4.27},
{"p":"MDF","g":"30 mm","l":"Advanced","k":"mean","v":-1.02,"d":4.27},
{"p":"RMS","g":"15 mm","k":"zero","v":0},
{"p":"RMS","g":"20 mm","k":"zero","v":0},
{"p":"RMS","g":"30 mm","k":"zero","v":0},
{"p":"MDF","g":"15 mm","k":"zero","v":0},
{"p":"MDF","g":"20 mm","k":"zero","v":0},
{"p":"MDF","g":"30 mm","k":"zero","v":0},
{"p":"RMS","g":"30 mm","l":"Intermediate","k":"sig","v":8.59},
{"p":"RMS","g":"30 mm","l":"Intermediate","k":"hash","v":9.6},
{"p":"RMS","g":"30 mm","l":"Advanced","k":"star","v":5.05},
{"p":"MDF","g":"15 mm","l":"Intermediate","k":"sig","v":1.45},
{"p":"MDF","g":"15 mm","l":"Intermediate","k":"hash","v":1.77},
{"p":"MDF","g":"20 mm","l":"Intermediate","k":"sig","v":1.45},
{"p":"MDF","g":"20 mm","l":"Intermediate","k":"hash","v":1.77},
{"p":"MDF","g":"30 mm","l":"Intermediate","k":"sig","v":1.45},
{"p":"MDF","g":"30 mm","l":"Intermediate","k":"hash","v":1.77},
{"p":"MDF","g":"20 mm","l":"Intermediate","k":"star","v":0.73},
{"p":"MDF","g":"20 mm","l":"Advanced","k":"star","v":0.73},
{"p":"MDF","g":"30 mm","l":"Intermediate","k":"star","v":0.73},
{"p":"MDF","g":"30 mm","l":"Advanced","k":"star","v":0.73}
]},
"bounds":"flush",
"spacing":341.8,
"resolve":{"scale":{"x":"independent","y":"independent","xOffset":"independent","fill":"shared","stroke":"independent","strokeWidth":"independent"},"legend":{"fill":"shared"}},
"vconcat":[
{
"data":{"name":"all"},
"transform":[{"filter":"datum.p === 'RMS'"}],
"facet":{
 "row":{"field":"p","type":"nominal","header":{"title":null,"labelAngle":-90,"labelFontSize":36,"labelFontWeight":"bold","labelFontStyle":"italic","labelColor":"#141414","labelPadding":1}},
 "column":{"field":"g","type":"nominal","sort":["15 mm","20 mm","30 mm"],"header":{"title":null,"labels":false}}
},
"spacing":{"row":0,"column":0},
"spec":{
 "width":279.1,"height":228.4,
 "encoding":{"y":{"field":"v","type":"quantitative","scale":{"domain":[-5.05,12.25],"nice":false,"zero":false},
   "axis":{"title":"Average slopes (% w.r.t. initial value / s)","values":[-5,0,5,10],"labelExpr":"replace(datum.label, '\u2212', '-')","domainWidth":2.5,"domainColor":"#1a1a1a","tickColor":"#1a1a1a","tickWidth":2.5,"tickSize":-8,"labelFontSize":28,"labelPadding":15,"labelColor":"#1a1a1a","titleFontSize":33,"titleFontWeight":"normal","titleColor":"#1a1a1a","titleX":-65,"titleY":262,"titleAngle":-90,"titleAlign":"center","titleBaseline":"alphabetic","minExtent":40,"maxExtent":40}}},
 "layer":[
  {"transform":[{"filter":"datum.k === 'v'"}],
   "mark":{"type":"line","interpolate":"catmull-rom","strokeJoin":"round"},
   "encoding":{
    "x":{"field":"l","type":"nominal","scale":{"type":"point","domain":["Intermediate","Advanced"],"range":[59.5,210.1],"padding":0.2},"axis":null},
    "xOffset":{"field":"d","type":"quantitative","scale":{"domain":[-10,10],"range":[-100,100]}},
    "fill":{"field":"l","type":"nominal","scale":{"domain":["Intermediate","Advanced","Median","Mean"],"range":["#ffffff","#a3a3a3","#d9d9d9","#000000"]},
      "legend":{"title":null,"orient":"none","legendX":900,"legendY":156,"padding":16,"strokeColor":"#1a1a1a","cornerRadius":22,"fillColor":"#ffffff","symbolSize":3721,"symbolOffset":16,"labelFontSize":25,"labelColor":"#1a1a1a","labelOffset":35,"rowPadding":23,"gridAlign":"all",
       "encode":{"symbols":{"update":{
         "shape":{"signal":"datum.value === 'Median' ? 'M-0.93,0H0.31' : datum.value === 'Mean' ? 'M-0.83,0H0.41' : 'M-1,-0.33H1V0.33H-1Z'"},
         "fill":{"signal":"datum.value === 'Intermediate' ? '#ffffff' : datum.value === 'Advanced' ? '#a3a3a3' : 'transparent'"},
         "stroke":{"signal":"datum.value === 'Advanced' || datum.value === 'Median' ? '#d9d9d9' : '#141414'"},
         "strokeWidth":{"signal":"datum.value === 'Median' ? 10 : datum.value === 'Advanced' ? 4 : 2.5"},
         "strokeDash":{"signal":"datum.value === 'Mean' ? [2.5, 2.5] : [1, 0]"},
         "opacity":{"value":1}}},
        "legend":{"update":{"strokeWidth":{"value":1.5}}}}}},
    "stroke":{"field":"l","type":"nominal","scale":{"domain":["Intermediate","Advanced"],"range":["#141414","#d9d9d9"]},"legend":null},
    "strokeWidth":{"field":"l","type":"ordinal","scale":{"domain":["Intermediate","Advanced"],"range":[2.5,5]},"legend":null},
    "detail":{"field":"l"},
    "order":{"value":null}}},
  {"transform":[{"filter":"datum.k === 'zero'"}],
   "mark":{"type":"rule","stroke":"#c4c4c4","strokeWidth":3.5,"strokeDash":[4,3]},
   "encoding":{}},
  {"transform":[{"filter":"datum.k === 'med'"}],
   "mark":{"type":"line","stroke":"#d9d9d9","strokeWidth":5},
   "encoding":{
    "x":{"field":"l","type":"nominal","scale":{"type":"point","domain":["Intermediate","Advanced"],"range":[59.5,210.1],"padding":0.2},"axis":null},
    "xOffset":{"field":"d","type":"quantitative","scale":{"domain":[-10,10],"range":[-100,100]}},
    "detail":{"field":"l"},"order":{"value":null}}},
  {"transform":[{"filter":"datum.k === 'mean'"}],
   "mark":{"type":"line","stroke":"#000000","strokeWidth":2,"strokeDash":[2.5,2.5]},
   "encoding":{
    "x":{"field":"l","type":"nominal","scale":{"type":"point","domain":["Intermediate","Advanced"],"range":[59.5,210.1],"padding":0.2},"axis":null},
    "xOffset":{"field":"d","type":"quantitative","scale":{"domain":[-10,10],"range":[-100,100]}},
    "detail":{"field":"l"},"order":{"value":null}}},
  {"transform":[{"filter":"datum.k === 'sig'"}],
   "mark":{"type":"rule","stroke":"#333333","strokeWidth":1.5},
   "encoding":{
    "x":{"field":"l","type":"nominal","scale":{"type":"point","domain":["Intermediate","Advanced"],"range":[59.5,210.1],"padding":0.2},"axis":null},
    "x2":{"datum":"Advanced"}}},
  {"transform":[{"filter":"datum.k === 'hash'"}],
   "mark":{"type":"text","text":"#","fontSize":30,"dx":57,"baseline":"middle","color":"#1a1a1a"},
   "encoding":{
    "x":{"field":"l","type":"nominal","scale":{"type":"point","domain":["Intermediate","Advanced"],"range":[59.5,210.1],"padding":0.2},"axis":null}}},
  {"transform":[{"filter":"datum.k === 'star'"}],
   "mark":{"type":"text","text":"*","fontSize":28,"dy":8,"baseline":"middle","color":"#1a1a1a"},
   "encoding":{
    "x":{"field":"l","type":"nominal","scale":{"type":"point","domain":["Intermediate","Advanced"],"range":[59.5,210.1],"padding":0.2},"axis":null}}}
 ]
}
},
{
"data":{"name":"all"},
"transform":[{"filter":"datum.p === 'MDF'"}],
"facet":{
 "row":{"field":"p","type":"nominal","header":{"title":null,"labelAngle":-90,"labelFontSize":36,"labelFontWeight":"bold","labelFontStyle":"italic","labelColor":"#141414","labelPadding":1}},
 "column":{"field":"g","type":"nominal","sort":["15 mm","20 mm","30 mm"],"header":{"title":"Edge depth","titleOrient":"bottom","titleFontSize":27,"titleFontWeight":"normal","titleColor":"#1a1a1a","titlePadding":4,"labelOrient":"bottom","labelFontSize":26,"labelColor":"#1a1a1a","labelPadding":19}}
},
"spacing":{"row":0,"column":0},
"spec":{
 "width":279.1,"height":231.2,
 "encoding":{"y":{"field":"v","type":"quantitative","scale":{"domain":[-5.45,0.19],"nice":false,"zero":false},
   "axis":{"title":".","values":[0,-1,-2,-3,-4,-5],"labelExpr":"replace(datum.label, '\u2212', '-')","domainWidth":2.5,"domainColor":"#1a1a1a","tickColor":"#1a1a1a","tickWidth":2.5,"tickSize":-8,"labelFontSize":28,"labelPadding":15,"labelColor":"#1a1a1a","titleFontSize":33,"titleFontWeight":"normal","titleColor":"rgba(0,0,0,0)","titleX":-65,"titleY":115.6,"titleAngle":-90,"titleAlign":"center","titleBaseline":"alphabetic","minExtent":40,"maxExtent":40}}},
 "layer":[
  {"transform":[{"filter":"datum.k === 'v'"}],
   "mark":{"type":"line","interpolate":"catmull-rom","strokeJoin":"round"},
   "encoding":{
    "x":{"field":"l","type":"nominal","scale":{"type":"point","domain":["Intermediate","Advanced"],"range":[59.5,210.1],"padding":0.2},"axis":{"title":null,"labels":false,"domainWidth":2.5,"domainColor":"#1a1a1a","tickColor":"#1a1a1a","tickWidth":2,"tickSize":-8,"offset":14}},
    "xOffset":{"field":"d","type":"quantitative","scale":{"domain":[-10,10],"range":[-100,100]}},
    "fill":{"field":"l","type":"nominal","scale":{"domain":["Intermediate","Advanced","Median","Mean"],"range":["#ffffff","#a3a3a3","#d9d9d9","#000000"]},
      "legend":{"title":null,"orient":"none","legendX":900,"legendY":156,"padding":16,"strokeColor":"#1a1a1a","cornerRadius":22,"fillColor":"#ffffff","symbolSize":3721,"symbolOffset":16,"labelFontSize":25,"labelColor":"#1a1a1a","labelOffset":35,"rowPadding":23,"gridAlign":"all",
       "encode":{"symbols":{"update":{
         "shape":{"signal":"datum.value === 'Median' ? 'M-0.93,0H0.31' : datum.value === 'Mean' ? 'M-0.83,0H0.41' : 'M-1,-0.33H1V0.33H-1Z'"},
         "fill":{"signal":"datum.value === 'Intermediate' ? '#ffffff' : datum.value === 'Advanced' ? '#a3a3a3' : 'transparent'"},
         "stroke":{"signal":"datum.value === 'Advanced' || datum.value === 'Median' ? '#d9d9d9' : '#141414'"},
         "strokeWidth":{"signal":"datum.value === 'Median' ? 10 : datum.value === 'Advanced' ? 4 : 2.5"},
         "strokeDash":{"signal":"datum.value === 'Mean' ? [2.5, 2.5] : [1, 0]"},
         "opacity":{"value":1}}},
        "legend":{"update":{"strokeWidth":{"value":1.5}}}}}},
    "stroke":{"field":"l","type":"nominal","scale":{"domain":["Intermediate","Advanced"],"range":["#141414","#d9d9d9"]},"legend":null},
    "strokeWidth":{"field":"l","type":"ordinal","scale":{"domain":["Intermediate","Advanced"],"range":[2.5,5]},"legend":null},
    "detail":{"field":"l"},
    "order":{"value":null}}},
  {"transform":[{"filter":"datum.k === 'zero'"}],
   "mark":{"type":"rule","stroke":"#c4c4c4","strokeWidth":3.5,"strokeDash":[4,3]},
   "encoding":{}},
  {"transform":[{"filter":"datum.k === 'med'"}],
   "mark":{"type":"line","stroke":"#d9d9d9","strokeWidth":5},
   "encoding":{
    "x":{"field":"l","type":"nominal","scale":{"type":"point","domain":["Intermediate","Advanced"],"range":[59.5,210.1],"padding":0.2},"axis":{"title":null,"labels":false,"domainWidth":2.5,"domainColor":"#1a1a1a","tickColor":"#1a1a1a","tickWidth":2,"tickSize":-8,"offset":14}},
    "xOffset":{"field":"d","type":"quantitative","scale":{"domain":[-10,10],"range":[-100,100]}},
    "detail":{"field":"l"},"order":{"value":null}}},
  {"transform":[{"filter":"datum.k === 'mean'"}],
   "mark":{"type":"line","stroke":"#000000","strokeWidth":2,"strokeDash":[2.5,2.5]},
   "encoding":{
    "x":{"field":"l","type":"nominal","scale":{"type":"point","domain":["Intermediate","Advanced"],"range":[59.5,210.1],"padding":0.2},"axis":{"title":null,"labels":false,"domainWidth":2.5,"domainColor":"#1a1a1a","tickColor":"#1a1a1a","tickWidth":2,"tickSize":-8,"offset":14}},
    "xOffset":{"field":"d","type":"quantitative","scale":{"domain":[-10,10],"range":[-100,100]}},
    "detail":{"field":"l"},"order":{"value":null}}},
  {"transform":[{"filter":"datum.k === 'sig'"}],
   "mark":{"type":"rule","stroke":"#333333","strokeWidth":1.5},
   "encoding":{
    "x":{"field":"l","type":"nominal","scale":{"type":"point","domain":["Intermediate","Advanced"],"range":[59.5,210.1],"padding":0.2},"axis":{"title":null,"labels":false,"domainWidth":2.5,"domainColor":"#1a1a1a","tickColor":"#1a1a1a","tickWidth":2,"tickSize":-8,"offset":14}},
    "x2":{"datum":"Advanced"}}},
  {"transform":[{"filter":"datum.k === 'hash'"}],
   "mark":{"type":"text","text":"#","fontSize":30,"dx":57,"baseline":"middle","color":"#1a1a1a"},
   "encoding":{
    "x":{"field":"l","type":"nominal","scale":{"type":"point","domain":["Intermediate","Advanced"],"range":[59.5,210.1],"padding":0.2},"axis":{"title":null,"labels":false,"domainWidth":2.5,"domainColor":"#1a1a1a","tickColor":"#1a1a1a","tickWidth":2,"tickSize":-8,"offset":14}}}},
  {"transform":[{"filter":"datum.k === 'star'"}],
   "mark":{"type":"text","text":"*","fontSize":28,"dy":8,"baseline":"middle","color":"#1a1a1a"},
   "encoding":{
    "x":{"field":"l","type":"nominal","scale":{"type":"point","domain":["Intermediate","Advanced"],"range":[59.5,210.1],"padding":0.2},"axis":{"title":null,"labels":false,"domainWidth":2.5,"domainColor":"#1a1a1a","tickColor":"#1a1a1a","tickWidth":2,"tickSize":-8,"offset":14}}}}
 ]
}
}
]
}
